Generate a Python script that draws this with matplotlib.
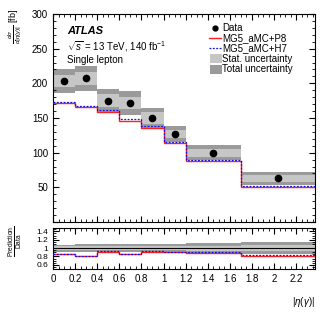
"""Differential cross-section in |eta(gamma)| with ratio panel."""

import matplotlib.pyplot as plt
import numpy as np
from matplotlib.ticker import FuncFormatter, MultipleLocator

bin_edges = [0.0, 0.2, 0.4, 0.6, 0.8, 1.0, 1.2, 1.7, 2.37]
data = [203, 207, 175, 172, 150, 127, 100, 63]
stat_unc = [9, 10, 9, 9, 8, 6, 6, 5]
total_unc = [17, 18, 17, 17, 15, 11.5, 11, 9]
pred_p8 = [172, 166, 158, 146, 136, 114, 88, 51]
pred_h7 = [173, 168, 161, 149, 139, 116, 89.5, 52.5]

edges = np.asarray(bin_edges)
data = np.asarray(data, dtype=float)
stat_unc = np.asarray(stat_unc, dtype=float)
total_unc = np.asarray(total_unc, dtype=float)
pred_p8 = np.asarray(pred_p8, dtype=float)
pred_h7 = np.asarray(pred_h7, dtype=float)
centers = 0.5 * (edges[:-1] + edges[1:])

c_stat = "#c6c6c6"
c_tot = "#9a9a9a"

plt.rcParams["font.family"] = ["Liberation Sans", "DejaVu Sans"]
plt.rcParams["mathtext.fontset"] = "custom"
plt.rcParams["mathtext.rm"] = "Liberation Sans"
plt.rcParams["mathtext.it"] = "Liberation Sans:italic"

fig = plt.figure(figsize=(3.32, 3.19), dpi=100)
ax = fig.add_axes([53 / 332, 1 - 222 / 319, 262 / 332, 208 / 319])
rax = fig.add_axes([53 / 332, 1 - 269 / 319, 262 / 332, 41 / 319])


def step(a, values, **kw):
    a.stairs(values, edges, baseline=None, **kw)


def bands(a, center, tot, stat):
    for lo, hi, c, t, s in zip(edges[:-1], edges[1:], center, tot, stat):
        a.fill_between([lo, hi], c - t, c + t, color=c_tot, lw=0, zorder=1)
        a.fill_between([lo, hi], c - s, c + s, color=c_stat, lw=0, zorder=2)


def num_fmt(v, _pos):
    return f"{v:.1f}".rstrip("0").rstrip(".")


# main panel
bands(ax, data, total_unc, stat_unc)
step(ax, pred_p8, color="#ff2020", lw=1.0, zorder=3)
step(ax, pred_h7, color="#1010ee", lw=0.9, ls=(0, (1.5, 1.2)), zorder=4)
ax.plot(centers, data, "o", color="black", ms=4.5, zorder=5)

ax.set_xlim(0, 2.37)
ax.set_ylim(0, 300)

# legend built by hand
lx0, lx1, tx = 0.595, 0.64, 0.645
ly = [0.935, 0.885, 0.835, 0.785, 0.735]
ax.plot([(lx0 + lx1) / 2], [ly[0]], "o", color="black", ms=3.5, transform=ax.transAxes)
ax.plot([lx0, lx1], [ly[1]] * 2, color="#ff2020", lw=1.0, transform=ax.transAxes)
ax.plot([lx0, lx1], [ly[2]] * 2, color="#1010ee", lw=0.9, ls=(0, (1.5, 1.2)),
        transform=ax.transAxes)
for y, c in [(ly[3], c_stat), (ly[4], c_tot)]:
    ax.add_patch(plt.Rectangle((lx0 + 0.005, y - 0.022), lx1 - lx0, 0.044,
                               color=c, transform=ax.transAxes, lw=0))
labels = ["Data", "MG5_aMC+P8", "MG5_aMC+H7", "Stat. uncertainty", "Total uncertainty"]
for y, t in zip(ly, labels):
    ax.text(tx, y, t, transform=ax.transAxes, fontsize=7, va="center")

ax.text(0.055, 0.92, "ATLAS", transform=ax.transAxes, fontsize=8,
        fontweight="bold", style="italic", va="center")
ax.text(0.055, 0.845, r"$\sqrt{s}$ = 13 TeV, 140 fb$^{-1}$", transform=ax.transAxes,
        fontsize=7, va="center")
ax.text(0.055, 0.78, "Single lepton", transform=ax.transAxes, fontsize=7, va="center")

fig.text(15 / 332, 1 - 9 / 319, r"$\frac{d\sigma}{d|\eta(\gamma)|}$ [fb]", fontsize=6.5,
         rotation=90, ha="center", va="top")

# ratio panel
ones = np.ones_like(data)
bands(rax, ones, total_unc / data, stat_unc / data)
rax.axhline(1.0, color="black", lw=0.8, zorder=3)
step(rax, pred_p8 / data, color="#ff2020", lw=1.0, zorder=3)
step(rax, pred_h7 / data, color="#1010ee", lw=0.9, ls=(0, (1.5, 1.2)), zorder=4)
rax.set_xlim(0, 2.37)
rax.set_ylim(0.5, 1.48)
fig.text(16 / 332, 1 - 241 / 319, r"$\frac{\mathrm{Prediction}}{\mathrm{Data}}$",
         fontsize=6.8, rotation=90, ha="center", va="center")
rax.set_xlabel(r"|$\eta(\gamma)$|", fontsize=7, loc="right", labelpad=8)

for a in (ax, rax):
    a.tick_params(which="both", direction="in", top=True, right=True, labelsize=7)
    a.tick_params(which="major", length=4)
    a.tick_params(which="minor", length=2)
    a.xaxis.set_major_locator(MultipleLocator(0.2))
    a.xaxis.set_minor_locator(MultipleLocator(0.05))
ax.tick_params(axis="x", labelbottom=False)
rax.xaxis.set_major_formatter(FuncFormatter(num_fmt))
ax.yaxis.set_major_locator(MultipleLocator(50))
ax.yaxis.set_minor_locator(MultipleLocator(10))
ax.yaxis.set_major_formatter(FuncFormatter(lambda v, p: "" if v == 0 else f"{v:g}"))
rax.yaxis.set_major_locator(MultipleLocator(0.2))
rax.yaxis.set_minor_locator(MultipleLocator(0.05))
rax.yaxis.set_major_formatter(FuncFormatter(num_fmt))
rax.tick_params(axis="y", labelsize=6)

fig.savefig("out.png", dpi=100)
